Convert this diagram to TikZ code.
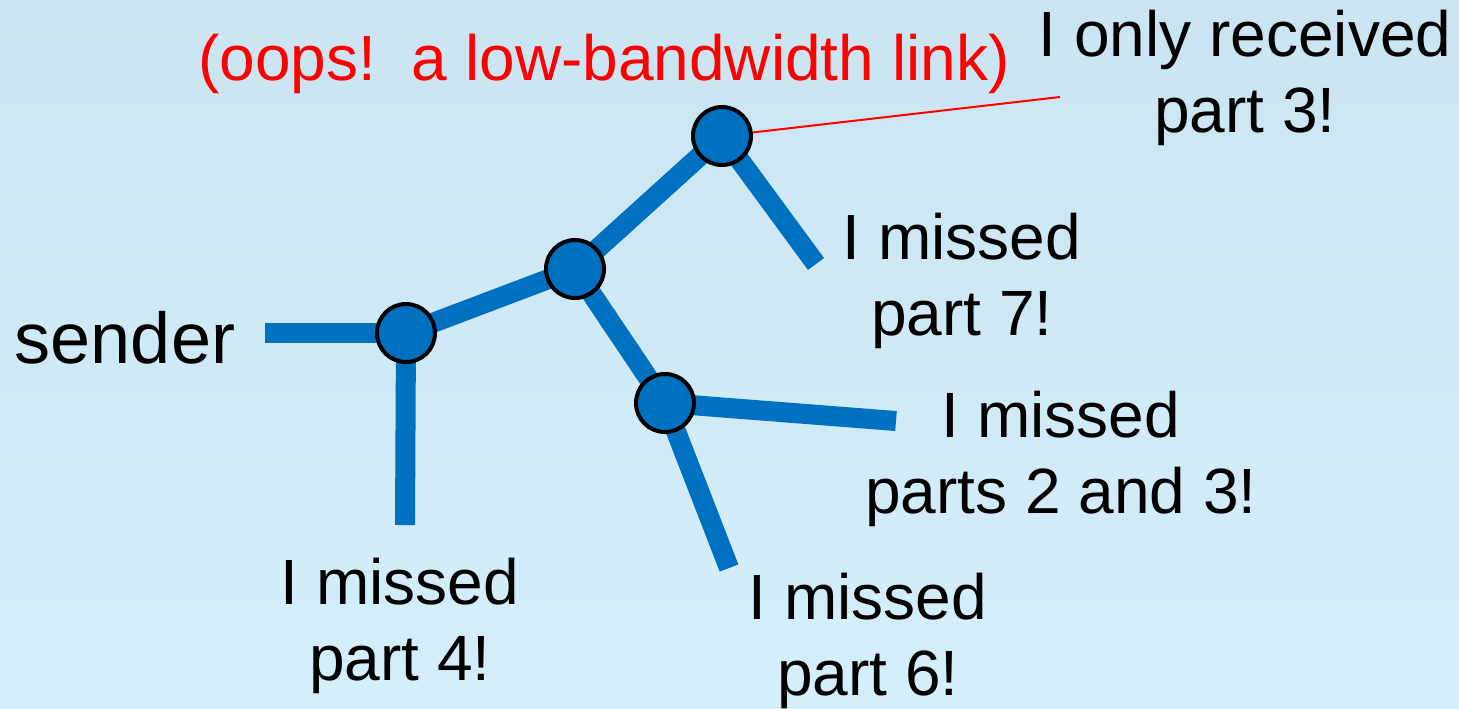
\documentclass[tikz,border=0pt]{standalone}
\usepackage{fontspec}
\setmainfont{Liberation Sans}
\usetikzlibrary{backgrounds}
\definecolor{bgtop}{HTML}{CBE4F1}
\definecolor{bgbot}{HTML}{D4EEFA}
\definecolor{netblue}{HTML}{0070C0}
\definecolor{oopsred}{HTML}{FF0000}
\begin{document}
\begin{tikzpicture}[x=0.5pt,y=-0.5pt,
  router/.style={circle,draw=black,line width=2pt,fill=netblue,minimum size=29pt,inner sep=0pt},
  link/.style={draw=netblue,line width=10pt},
  lbl/.style={align=center,inner sep=0pt,anchor=base,font=\fontsize{32}{38}\selectfont},
  sendlbl/.style={inner sep=0pt,anchor=base,font=\fontsize{36}{43}\selectfont}]
\begin{scope}[on background layer]
  \shade[top color=bgtop,bottom color=bgbot] (0,0) rectangle (1459,708);
\end{scope}
\useasboundingbox (0,0) rectangle (1459,708);
% routers
\node[router] (A) at (406,333) {};
\node[router] (B) at (575,269) {};
\node[router] (C) at (722,136) {};
\node[router] (D) at (665,403) {};
% free ends
\coordinate (s0) at (265,333);
\coordinate (eA) at (405,525);
\coordinate (eC) at (816,264);
\coordinate (eDr) at (896,421);
\coordinate (eDb) at (729,568);
\coordinate (eRed) at (1060,97);
\begin{scope}[on background layer]
  \draw[link] (s0) -- (A.center);
  \draw[link] (A.center) -- (eA);
  \draw[link] (A.center) -- (B.center);
  \draw[link] (B.center) -- (C.center);
  \draw[link] (B.center) -- (D.center);
  \draw[link] (C.center) -- (eC);
  \draw[link] (D.center) -- (eDr);
  \draw[link] (D.center) -- (eDb);
\end{scope}
\draw[oopsred,line width=1pt] (C) -- (eRed);
% labels (base anchor = baseline of the last line)
\node[sendlbl] (sender) at (125,363) {sender};
\node[lbl,text=oopsred] (oops) at (604,80) {(oops!\ \ a low-bandwidth link)};
\node[lbl] (r3) at (1245,132) {I only received\\part 3!};
\node[lbl] (m7) at (962,335) {I missed\\part 7!};
\node[lbl] (m23) at (1061,513) {I missed\\parts 2 and 3!};
\node[lbl] (m4) at (400,680) {I missed\\part 4!};
\node[lbl] (m6) at (868,695) {I missed\\part 6!};
\end{tikzpicture}
\end{document}
